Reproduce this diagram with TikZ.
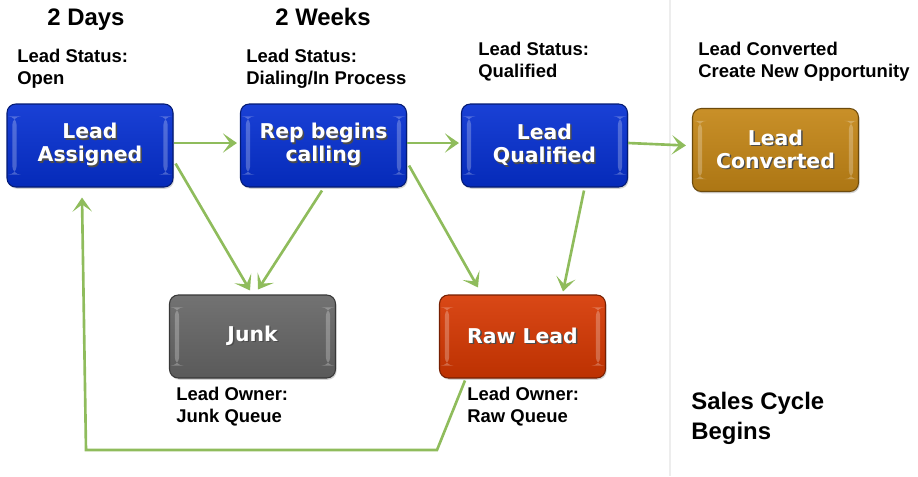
\documentclass[tikz,border=0pt]{standalone}
\usepackage{fontspec}
\setmainfont{Liberation Sans}
\newfontfamily\boxfont{DejaVu Sans}
\usetikzlibrary{arrows.meta,calc,shadows}

\definecolor{leadblue}{RGB}{6,48,210}
\definecolor{junkgray}{RGB}{102,102,102}
\definecolor{rawred}{RGB}{214,56,2}
\definecolor{wongold}{RGB}{196,134,22}
\definecolor{flowgreen}{RGB}{143,188,92}

% white box text with a soft dark shadow under it
\newcommand\glowtext[1]{\rlap{\raisebox{-0.8pt}{\kern0.8pt\textcolor{black!70}{#1}}}#1}

\begin{document}
\begin{tikzpicture}[
  % --- boxes of the pipeline, colour as argument
  stage/.style={
    draw=#1!55!black, line width=0.6pt,
    top color=#1!92!white, bottom color=#1!88!black,
    rounded corners=5pt,
    minimum width=3.32cm, minimum height=1.66cm,
    text=white, align=center,
    font=\boxfont\bfseries\fontsize{11.6}{13.2}\selectfont,
    drop shadow={shadow xshift=0.6pt, shadow yshift=-1pt, opacity=0.35},
    path picture={
      \fill[white,opacity=0.25]
        ([xshift=3pt,yshift=-7pt]path picture bounding box.north west)
        rectangle ([xshift=5.5pt,yshift=7pt]path picture bounding box.south west);
      \fill[white,opacity=0.25]
        ([xshift=-5.5pt,yshift=-7pt]path picture bounding box.north east)
        rectangle ([xshift=-3pt,yshift=7pt]path picture bounding box.south east);
    }
  },
  % --- captions next to the boxes (anchored at the last line)
  note/.style={anchor=base west, align=left, inner sep=0pt,
    font=\bfseries\fontsize{10.5}{12}\selectfont},
  heading/.style={anchor=base west, align=left, inner sep=0pt,
    font=\bfseries\fontsize{13.6}{17}\selectfont},
  % --- green connectors
  flow/.style={draw=flowgreen, line width=1.5pt,
    -{Stealth[length=8pt,width=11pt,inset=4pt]}},
]
\useasboundingbox (0,0) rectangle (18.36,-9.52);

% divider in front of the sales side
\draw[black!7, line width=0.6pt] (13.40,0) -- (13.40,-9.52);

%========================
% Boxes
%========================
\node[stage=leadblue] (assigned)  at (1.80,-2.91)  {\glowtext{Lead}\\\glowtext{Assigned}};
\node[stage=leadblue] (calling)   at (6.47,-2.91)  {\glowtext{Rep begins}\\\glowtext{calling}};
\node[stage=leadblue] (qualified) at (10.89,-2.91) {\glowtext{Lead}\\\glowtext{Qualified}};
\node[stage=wongold]  (converted) at (15.51,-3.00) {\glowtext{Lead}\\\glowtext{Converted}};
\node[stage=junkgray] (junk)      at (5.05,-6.73)  {\glowtext{Junk}};
\node[stage=rawred]   (raw)       at (10.45,-6.73) {\glowtext{Raw Lead}};

%========================
% Texts
%========================
\node[heading] (days)  at (0.94,-0.50) {2 Days};
\node[heading] (weeks) at (5.50,-0.50) {2 Weeks};

\node[note] (open)     at (0.34,-1.68) {Lead Status:\\Open};
\node[note] (dialing)  at (4.92,-1.68) {Lead Status:\\Dialing/In Process};
\node[note] (qualnote) at (9.56,-1.54) {Lead Status:\\Qualified};
\node[note] (convnote) at (13.96,-1.54) {Lead Converted\\Create New Opportunity};
\node[note] (junkq)    at (3.52,-8.44) {Lead Owner:\\Junk Queue};
\node[note] (rawq)     at (9.34,-8.44) {Lead Owner:\\Raw Queue};
\node[heading] (cycle) at (13.82,-8.78) {Sales Cycle\\Begins};

%========================
% Connectors
%========================
\draw[flow] ([yshift=0.05cm]assigned.east) -- ([xshift=-0.06cm,yshift=0.05cm]calling.west);
\draw[flow] ([yshift=0.05cm]calling.east) -- ([xshift=-0.04cm,yshift=0.05cm]qualified.west);
\draw[flow] ([yshift=0.05cm]qualified.east) -- ([xshift=-0.12cm]qualified.east -| converted.west);

\draw[flow] ($(assigned.south east)+(0.04,0.48)$) -- ($(junk.north)+(-0.05,0.08)$);
\draw[flow] ($(calling.south)+(-0.03,-0.06)$) -- ($(junk.north)+(0.11,0.10)$);
\draw[flow] ($(calling.south east)+(0.04,0.44)$) -- ($(raw.north)+(-0.89,0.14)$);
\draw[flow] ($(qualified.south)+(0.79,-0.06)$) -- ($(raw.north)+(0.81,0.06)$);

% raw leads go back to be assigned again
\coordinate (loopR) at (8.74,-9.00);
\coordinate (loopL) at (1.72,-9.00);
\draw[flow] ($(raw.south)+(-1.15,-0.04)$) -- (loopR) -- (loopL)
  -- ($(assigned.south)+(-0.16,-0.20)$);

\end{tikzpicture}
\end{document}
